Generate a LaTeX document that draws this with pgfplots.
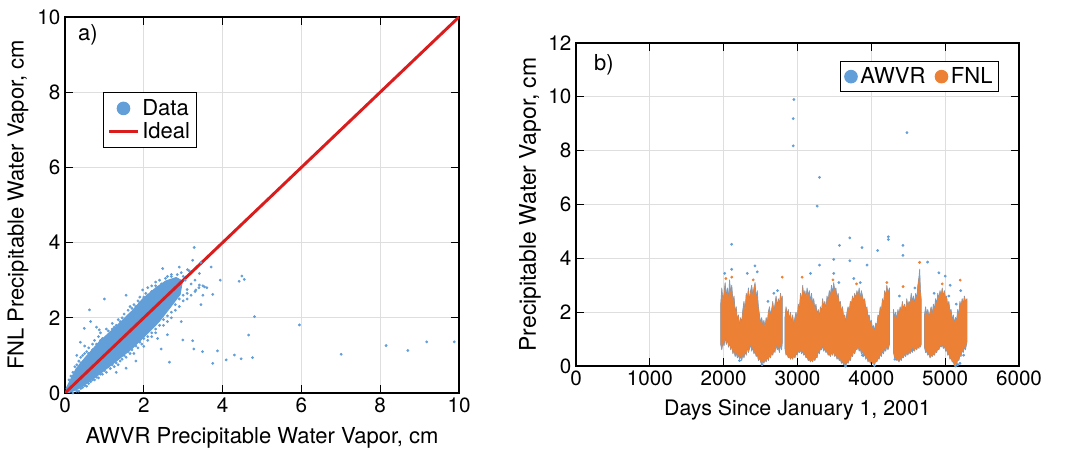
\documentclass[border=0pt]{standalone}
\usepackage{fontspec}
\setmainfont{TeX Gyre Heros}
\usepackage{pgfplots}
\pgfplotsset{compat=1.18}

\definecolor{awvr}{RGB}{98,158,216}
\definecolor{fnl}{RGB}{236,128,52}
\definecolor{ideal}{RGB}{218,28,28}
\definecolor{gridc}{RGB}{222,222,222}

\newcommand{\fs}{\fontsize{15.5}{18}\selectfont}
\newcommand{\fl}{\fontsize{16.5}{20}\selectfont}

\pgfplotsset{
  panel/.style={
    scale only axis,
    axis line style={black, line width=1.1pt},
    tick style={black, line width=0.9pt},
    major tick length=6pt,
    tick align=inside,
    xtick pos=both, ytick pos=both,
    grid=major,
    major grid style={gridc, line width=0.7pt},
    tick label style={font=\fs},
    label style={font=\fl},
    /pgf/number format/assume math mode=true,
    /pgf/number format/1000 sep={},
    legend style={font=\fl, draw=black, line width=0.8pt,
      inner sep=3pt, row sep=0pt},
    legend cell align=left,
  },
  band/.style={forget plot, fill=fnl, draw=none,
    preaction={draw=awvr, line width=0.5pt, line join=round}},
}

\begin{document}
\begin{tikzpicture}

% ---------- a) scatter ----------
\begin{axis}[panel,
  at={(48.75pt,44.25pt)}, anchor=south west,
  width=295.5pt, height=282pt,
  xmin=0, xmax=10, ymin=0, ymax=10,
  xtick={0,2,...,10}, ytick={0,2,...,10},
  xlabel={AWVR Precipitable Water Vapor, cm},
  ylabel={FNL Precipitable Water Vapor, cm},
  xlabel style={at={(axis description cs:0.5,-0.12)}, anchor=center},
  ylabel style={at={(axis description cs:-0.119,0.5)}, anchor=center},
  legend style={at={(axis description cs:0.096,0.80)}, anchor=north west},
]
\addlegendimage{legend image code/.code={\fill[awvr] (11pt,0pt) circle (4.7pt);}}
\addlegendentry{Data}
\addlegendimage{legend image code/.code={\draw[ideal, line width=2.2pt] (0pt,0pt) -- (22pt,0pt);}}
\addlegendentry{Ideal}

% dense core of the cloud
\addplot[forget plot, fill=awvr, draw=awvr, line width=0.8pt] coordinates {
  (0.03,0.12) (0.28,0.64) (0.53,0.96) (0.87,1.36) (1.29,1.76) (1.72,2.20)
  (1.97,2.50) (2.31,2.80) (2.56,2.98) (2.82,3.07) (2.98,2.98)
  (2.92,2.62) (2.65,2.25) (2.39,1.90) (2.06,1.55) (1.72,1.20) (1.29,0.84)
  (0.87,0.50) (0.53,0.24) (0.28,0.08) (0.07,0.00) (0.03,0.12)
};
% sparse points around the core and outliers
\addplot[forget plot, only marks, mark=*, mark size=0.85pt, awvr] coordinates {
  (0.10,0.35) (0.15,0.45) (0.20,0.55) (0.25,0.70) (0.35,0.85) (0.40,0.95)
  (0.45,1.00) (0.55,1.10) (0.60,1.20) (0.70,1.30) (0.75,1.40) (0.85,1.50)
  (0.90,1.60) (0.95,1.45) (1.05,1.70) (1.10,1.55) (1.20,1.85) (1.25,1.75)
  (1.35,1.95) (1.45,2.00) (1.50,2.10) (1.60,2.20) (1.65,2.30) (1.75,2.35)
  (1.85,2.45) (1.90,2.55) (2.05,2.65) (2.10,2.80) (2.20,2.85) (2.30,2.95)
  (2.40,3.00) (2.60,3.10) (2.70,3.15) (0.65,1.90) (0.80,1.75) (0.30,1.00)
  (0.50,1.25) (0.20,0.00) (0.35,0.05) (0.45,0.15) (0.55,0.18) (0.65,0.30)
  (0.75,0.35) (0.85,0.40) (0.95,0.50) (1.05,0.55) (1.15,0.65) (1.25,0.70)
  (1.35,0.75) (1.45,0.90) (1.55,0.95) (1.65,1.05) (1.75,1.05) (1.85,1.20)
  (1.95,1.30) (2.10,1.40) (2.20,1.50) (2.30,1.60) (2.35,1.45) (2.50,1.80)
  (2.60,1.90) (2.70,2.00) (2.80,2.20) (2.90,2.30) (3.00,2.45) (3.10,2.50)
  (3.20,2.60) (3.30,2.70) (3.10,2.75) (2.95,1.90) (2.60,1.55) (1.30,0.55)
  (1.80,0.85) (3.20,2.90) (3.30,3.00) (3.15,3.25) (3.05,3.00) (2.95,3.20)
  (3.40,2.80) (3.50,2.85) (3.60,2.80) (3.50,2.60) (3.45,2.35)
  (0.20,0.45) (0.30,0.75) (0.40,0.80) (0.50,1.05) (0.60,1.05) (0.70,1.15)
  (0.80,1.30) (0.90,1.40) (1.00,1.45) (1.10,1.65) (1.20,1.70) (1.30,1.80)
  (1.40,1.90) (1.50,1.95) (1.60,2.05) (1.70,2.25) (1.80,2.30) (1.90,2.40)
  (2.00,2.55) (2.10,2.60) (2.20,2.70) (2.30,2.85) (2.45,2.90) (2.55,3.05)
  (2.70,3.10) (2.85,3.15) (3.00,3.10)
  (0.30,0.05) (0.40,0.12) (0.50,0.20) (0.60,0.25) (0.70,0.35) (0.80,0.42)
  (0.90,0.50) (1.00,0.60) (1.10,0.70) (1.20,0.75) (1.30,0.80) (1.40,0.85)
  (1.50,1.00) (1.60,1.10) (1.70,1.15) (1.80,1.25) (1.90,1.35) (2.00,1.45)
  (2.10,1.50) (2.20,1.60) (2.30,1.70) (2.40,1.80) (2.50,1.95) (2.60,2.05)
  (2.70,2.15) (2.80,2.35) (2.90,2.50) (3.00,2.60) (3.10,2.65)
  (3.28,3.87) (3.24,3.53) (3.45,3.47) (3.71,3.35) (3.94,3.00) (4.42,2.97)
  (4.49,3.11) (4.55,3.02) (3.75,2.62) (3.54,2.82) (3.41,2.87) (3.32,2.74)
  (4.81,2.03) (4.66,1.54) (5.95,1.81) (2.99,1.41) (3.24,1.39) (3.27,1.17)
  (3.49,1.10) (3.87,1.12) (3.75,0.79) (4.09,0.88) (4.30,1.01) (4.47,0.91)
  (4.76,0.94) (7.01,1.03) (8.15,1.26) (8.70,1.13) (9.18,1.36) (9.88,1.36)
  (2.65,0.82) (2.44,1.17) (2.00,1.24) (1.55,0.66) (0.62,2.21) (1.00,2.50)
  (0.39,1.35) (0.49,1.72) (0.87,1.68) (1.55,2.60) (1.97,2.74) (2.48,3.31)
  (2.90,3.35) (3.11,3.28) (3.41,3.18)
};
\addplot[forget plot, ideal, line width=2.2pt] coordinates {(0,0) (10,10)};
\node[font=\fl] at (axis cs:0.58,9.52) {a)};
\end{axis}

% ---------- b) time series ----------
\begin{axis}[panel,
  at={(432pt,64.5pt)}, anchor=south west,
  width=332.25pt, height=242.25pt,
  xmin=0, xmax=6000, ymin=0, ymax=12,
  xtick={0,1000,...,6000}, ytick={0,2,...,12},
  xlabel={Days Since January 1, 2001},
  ylabel={Precipitable Water Vapor, cm},
  xlabel style={at={(axis description cs:0.5,-0.136)}, anchor=center,
    font=\fontsize{16}{18}\selectfont},
  ylabel style={at={(axis description cs:-0.104,0.5)}, anchor=center,
    font=\fontsize{17.2}{20}\selectfont},
  legend columns=2,
  legend style={at={(axis description cs:0.955,0.944)}, anchor=north east,
    inner sep=2.5pt,
    /tikz/every even column/.append style={column sep=5pt}},
]
\addlegendimage{legend image code/.code={\fill[awvr] (16pt,0pt) circle (4.7pt);}}
\addlegendentry{AWVR}
\addlegendimage{legend image code/.code={\fill[fnl] (16pt,0pt) circle (4.7pt);}}
\addlegendentry{FNL}

% bands: upper envelope forward, lower envelope back
\addplot[band] coordinates {
  (1960,2.3) (1975,2.9) (1990,2.4) (2005,2.7) (2020,3.1) (2035,2.6) (2050,2.9)
  (2065,2.5) (2080,3.2) (2095,2.7) (2110,3.0) (2125,2.4) (2140,2.6) (2155,2.0)
  (2170,2.2) (2185,1.7) (2200,1.9) (2215,1.5) (2230,1.8) (2245,1.6) (2260,2.1)
  (2275,2.4) (2290,2.0) (2305,2.7) (2320,2.5) (2335,2.9) (2350,2.4) (2365,2.8)
  (2380,3.0) (2395,2.6) (2410,2.9) (2425,3.1) (2440,2.5) (2455,2.8) (2470,2.2)
  (2485,1.9) (2500,1.6) (2515,1.8) (2530,1.5) (2545,1.7) (2560,1.4) (2575,1.8)
  (2590,1.6) (2605,2.0) (2620,2.2) (2635,1.9) (2650,2.1) (2665,2.4) (2680,2.0)
  (2695,2.3) (2710,2.6) (2725,2.2) (2740,2.5) (2755,2.3) (2770,2.7) (2785,2.4)
  (2795,2.6)
  (2795,0.9) (2785,0.6) (2770,0.8) (2755,0.5) (2740,0.7) (2725,0.6) (2710,0.8)
  (2695,0.5) (2680,0.6) (2665,0.4) (2650,0.5) (2635,0.3) (2620,0.4) (2605,0.2)
  (2590,0.35) (2575,0.15) (2560,0.25) (2545,0.1) (2530,0.2) (2515,0.05) (2500,0.15)
  (2485,0.3) (2470,0.2) (2455,0.45) (2440,0.35) (2425,0.55) (2410,0.45) (2395,0.7)
  (2380,0.55) (2365,0.8) (2350,0.65) (2335,0.5) (2320,0.7) (2305,0.4) (2290,0.55)
  (2275,0.3) (2260,0.45) (2245,0.2) (2230,0.35) (2215,0.25) (2200,0.4) (2185,0.3)
  (2170,0.5) (2155,0.35) (2140,0.6) (2125,0.45) (2110,0.75) (2095,0.6) (2080,0.85)
  (2065,0.7) (2050,1.0) (2035,0.8) (2020,1.1) (2005,0.75) (1990,0.9) (1975,0.6)
  (1960,0.8)
} -- cycle;
\addplot[band] coordinates {
  (2830,1.8) (2845,2.2) (2860,1.9) (2875,2.1) (2890,1.7) (2905,2.0) (2920,1.6)
  (2935,1.9) (2950,1.5) (2965,1.8) (2980,2.0) (2995,1.7) (3010,2.3) (3025,2.1)
  (3040,2.7) (3055,2.4) (3070,3.0) (3085,2.6) (3100,2.8) (3115,2.5) (3130,2.9)
  (3145,2.6) (3160,2.8) (3175,2.4) (3190,2.7) (3205,2.3) (3220,2.5) (3235,2.1)
  (3250,2.3) (3265,1.9) (3280,2.1) (3295,1.8) (3310,2.2) (3325,2.0) (3340,2.5)
  (3355,2.2) (3370,2.4) (3385,2.1) (3400,2.6) (3415,2.4) (3430,2.8) (3445,2.6)
  (3460,3.0) (3475,2.7) (3490,3.1) (3505,2.8) (3520,2.9) (3535,2.5) (3550,2.7)
  (3565,2.3) (3580,2.4) (3595,2.0) (3610,2.2) (3625,1.8) (3640,1.9) (3655,1.6)
  (3670,2.0) (3685,2.2) (3700,2.0) (3715,2.4) (3730,2.3) (3745,2.6) (3760,2.4)
  (3775,2.7) (3790,2.5) (3805,2.8) (3820,2.6) (3835,2.9) (3850,2.5) (3865,2.8)
  (3880,2.6) (3895,2.4) (3910,2.5) (3925,2.1) (3940,2.2) (3955,1.8) (3970,1.9)
  (3985,1.6) (4000,1.7) (4015,1.4) (4030,1.5) (4045,1.3) (4060,1.6) (4075,1.5)
  (4090,1.9) (4105,1.8) (4120,2.2) (4135,2.0) (4150,2.5) (4165,2.3) (4180,2.8)
  (4195,2.6) (4210,3.0) (4225,2.7) (4245,2.9)
  (4245,0.8) (4225,0.6) (4210,0.75) (4195,0.55) (4180,0.65) (4165,0.45) (4150,0.55)
  (4135,0.35) (4120,0.45) (4105,0.25) (4090,0.3) (4075,0.15) (4060,0.2) (4045,0.05)
  (4030,0.12) (4015,0.1) (4000,0.2) (3985,0.1) (3970,0.25) (3955,0.15) (3940,0.35)
  (3925,0.25) (3910,0.45) (3895,0.35) (3880,0.55) (3865,0.45) (3850,0.65) (3835,0.55)
  (3820,0.75) (3805,0.6) (3790,0.65) (3775,0.45) (3760,0.55) (3745,0.35) (3730,0.4)
  (3715,0.2) (3700,0.25) (3685,0.1) (3670,0.15) (3655,0.02) (3640,0.08) (3625,0.05)
  (3610,0.15) (3595,0.1) (3580,0.25) (3565,0.2) (3550,0.35) (3535,0.25) (3520,0.45)
  (3505,0.35) (3490,0.55) (3475,0.4) (3460,0.5) (3445,0.35) (3430,0.45) (3415,0.4)
  (3400,0.55) (3385,0.5) (3370,0.65) (3355,0.55) (3340,0.75) (3325,0.6) (3310,0.65)
  (3295,0.45) (3280,0.55) (3265,0.3) (3250,0.35) (3235,0.2) (3220,0.3) (3205,0.15)
  (3190,0.25) (3175,0.15) (3160,0.25) (3145,0.2) (3130,0.35) (3115,0.3) (3100,0.45)
  (3085,0.4) (3070,0.55) (3055,0.45) (3040,0.6) (3025,0.5) (3010,0.55) (2995,0.4)
  (2980,0.45) (2965,0.3) (2950,0.4) (2935,0.25) (2920,0.35) (2905,0.25) (2890,0.35)
  (2875,0.3) (2860,0.45) (2845,0.4) (2830,0.65)
} -- cycle;
\addplot[band] coordinates {
  (4300,2.1) (4315,1.8) (4330,2.0) (4345,1.7) (4360,2.1) (4375,1.9) (4390,2.2)
  (4405,2.0) (4420,2.4) (4435,2.1) (4450,2.3) (4465,2.0) (4480,2.5) (4495,2.2)
  (4510,2.4) (4525,2.3) (4540,2.7) (4555,2.4) (4570,2.6) (4585,2.3) (4600,2.7)
  (4615,2.5) (4630,3.0) (4645,3.3) (4655,3.6) (4665,2.8) (4675,2.5)
  (4675,0.8) (4665,0.7) (4655,0.85) (4645,0.65) (4630,0.75) (4615,0.6) (4600,0.7)
  (4585,0.55) (4570,0.65) (4555,0.5) (4540,0.6) (4525,0.45) (4510,0.55) (4495,0.4)
  (4480,0.5) (4465,0.35) (4450,0.45) (4435,0.3) (4420,0.35) (4405,0.2) (4390,0.3)
  (4375,0.15) (4360,0.25) (4345,0.2) (4330,0.35) (4315,0.3) (4300,0.5)
} -- cycle;
\addplot[band] coordinates {
  (4720,1.9) (4735,2.2) (4750,1.9) (4765,2.1) (4780,1.8) (4795,2.0) (4810,2.2)
  (4825,1.9) (4840,2.3) (4855,2.1) (4870,2.5) (4885,2.3) (4900,2.7) (4915,2.5)
  (4930,2.8) (4945,2.6) (4960,2.9) (4975,2.6) (4990,2.8) (5005,2.5) (5020,2.6)
  (5035,2.2) (5050,2.4) (5065,2.0) (5080,2.1) (5095,1.7) (5110,1.9) (5125,1.6)
  (5140,1.8) (5155,1.7) (5170,2.1) (5185,1.9) (5200,2.4) (5215,2.2) (5230,2.5)
  (5245,2.3) (5260,2.6) (5275,2.4) (5295,2.5)
  (5295,0.9) (5275,0.6) (5260,0.7) (5245,0.5) (5230,0.6) (5215,0.35) (5200,0.4)
  (5185,0.2) (5170,0.25) (5155,0.05) (5140,0.1) (5125,0.02) (5110,0.15) (5095,0.15)
  (5080,0.3) (5065,0.25) (5050,0.45) (5035,0.4) (5020,0.6) (5005,0.55) (4990,0.75)
  (4975,0.65) (4960,0.8) (4945,0.7) (4930,0.75) (4915,0.6) (4900,0.65) (4885,0.5)
  (4870,0.55) (4855,0.4) (4840,0.45) (4825,0.35) (4810,0.4) (4795,0.3) (4780,0.45)
  (4765,0.4) (4750,0.55) (4735,0.5) (4720,0.7)
} -- cycle;

% AWVR outliers
\addplot[forget plot, only marks, mark=*, mark size=0.85pt, awvr] coordinates {
  (2951,9.90) (2942,9.19) (2942,8.18) (3298,7.01) (3266,5.94) (4482,8.67)
  (2108,4.52) (3708,4.76) (3568,4.48) (3874,4.40) (4230,4.80) (4230,4.70)
  (4086,4.29) (4428,4.48) (4428,4.11) (3491,3.96) (3708,3.91) (3942,3.75)
  (4762,3.86) (3298,3.75) (2424,3.72) (4915,3.46) (5000,3.34) (2014,3.44)
  (2108,3.59) (2320,3.44) (2455,3.50) (3176,3.44) (3491,3.44) (3762,3.25)
  (5068,3.00) (2600,2.4) (2680,2.7) (2730,2.8) (3560,3.1) (3850,3.1)
  (4380,2.6) (4590,2.9) (4850,2.7) (5050,2.6) (5150,2.3) (5210,2.8)
  (5140,0.0) (5170,0.05) (5200,0.1) (3650,0.0) (4040,0.02) (2520,0.05)
  (5250,0.4) (4560,0.6) (3880,0.4) (2215,0.2) (4320,0.25)
};
% FNL outliers
\addplot[forget plot, only marks, mark=*, mark size=0.85pt, fnl] coordinates {
  (2793,3.30) (3063,3.30) (4654,3.85) (5203,3.19) (2110,3.30) (3480,3.20)
  (4430,2.95) (2400,3.20) (3800,3.05) (4210,3.10) (4960,3.05) (2030,3.25)
};
\node[font=\fl] at (axis cs:379,11.19) {b)};
\end{axis}

\pgfresetboundingbox
\path[use as bounding box] (0,0) rectangle (803.25pt,339pt);
\end{tikzpicture}
\end{document}
